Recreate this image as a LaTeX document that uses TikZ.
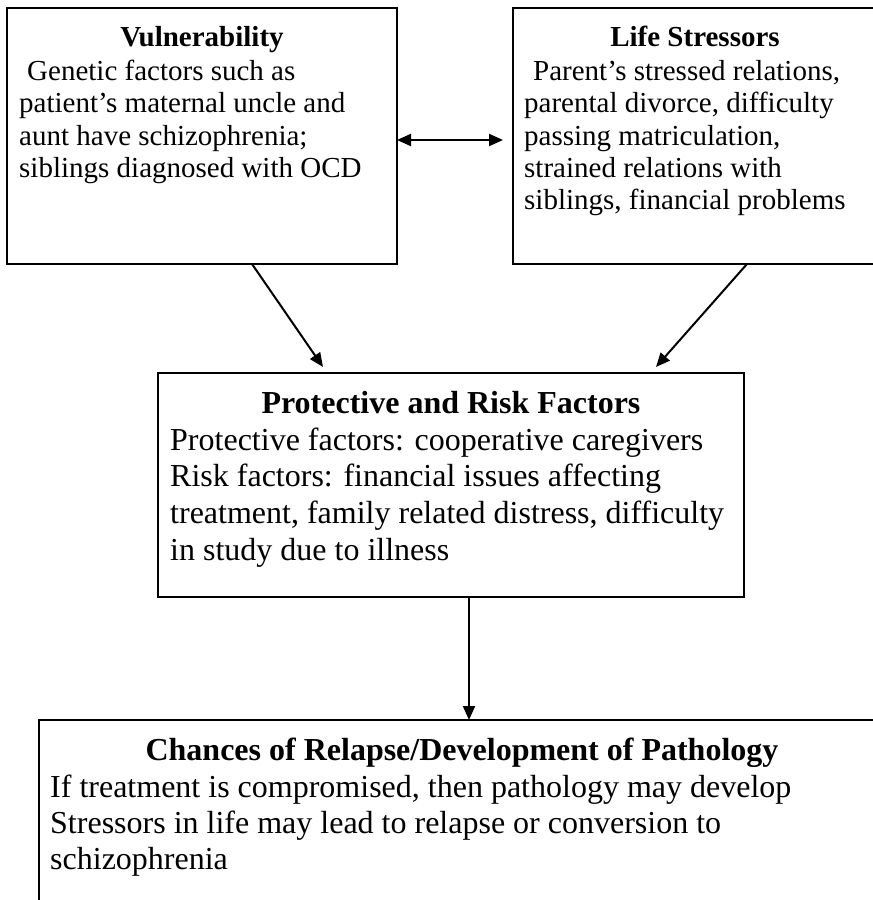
\documentclass[tikz,border=0pt]{standalone}
\usepackage{fontspec}
\setmainfont{Liberation Serif}
\usetikzlibrary{arrows.meta}
\begin{document}
\begin{tikzpicture}[x=1pt,y=-1pt,
  box/.style={draw, line width=2pt, inner sep=0pt, outer sep=0pt, anchor=north west},
  ln/.style={anchor=base west, inner sep=0pt, font=\fontsize{29}{32}\selectfont},
  ttl/.style={anchor=base, inner sep=0pt, font=\fontsize{29}{32}\selectfont\bfseries},
  lnb/.style={anchor=base west, inner sep=0pt, font=\fontsize{32}{36}\selectfont},
  ttlb/.style={anchor=base, inner sep=0pt, font=\fontsize{32}{36}\selectfont\bfseries},
  tip/.tip={Triangle[length=14pt,width=12pt]},
  arr/.style={line width=2pt, -tip}]
\useasboundingbox (0,0) rectangle (873,900);
\clip (0,0) rectangle (873,900);
% boxes
\node[box, minimum width=390pt, minimum height=256pt] (vul) at (7,8) {};
\node[box, minimum width=364pt, minimum height=256pt] (ls) at (513,8) {};
\node[box, minimum width=586pt, minimum height=224pt] (prf) at (158,373) {};
\node[box, minimum width=846pt, minimum height=230pt] (ch) at (39,720) {};
% Vulnerability text
\node[ttl] (vt) at (202,46) {Vulnerability};
\node[ln] (v1) at (27,80) {Genetic factors such as};
\node[ln] (v2) at (19,112) {patient’s maternal uncle and};
\node[ln] (v3) at (19,145) {aunt have schizophrenia;};
\node[ln] (v4) at (19,177) {siblings diagnosed with OCD};
% Life stressors text
\node[ttl] (lt) at (695,46) {Life Stressors};
\node[ln] (l1) at (533,80) {Parent’s stressed relations,};
\node[ln] (l2) at (524,112) {parental divorce, difficulty};
\node[ln] (l3) at (524,145) {passing matriculation,};
\node[ln] (l4) at (524,177) {strained relations with};
\node[ln] (l5) at (524,209) {siblings, financial problems};
% Protective text
\node[ttlb] (pt) at (451,413) {Protective and Risk Factors};
\node[lnb] (p1) at (170,450) {Protective factors: cooperative caregivers};
\node[lnb] (p2) at (170,486) {Risk factors: financial issues affecting};
\node[lnb] (p3) at (170,523) {treatment, family related distress, difficulty};
\node[lnb] (p4) at (170,560) {in study due to illness};
% Chances text
\node[ttlb] (ct) at (462,760) {Chances of Relapse/Development of Pathology};
\node[lnb] (c1) at (50,797) {If treatment is compromised, then pathology may develop};
\node[lnb] (c2) at (50,833) {Stressors in life may lead to relapse or conversion to};
\node[lnb] (c3) at (50,869) {schizophrenia};
% connectors
\draw[line width=2pt, tip-tip] ([yshift=-4pt]vul.east) -- ([yshift=-4pt,xshift=-10pt]ls.west);
\draw[arr] ([xshift=50pt]vul.south) -- ([xshift=-128pt,yshift=6pt]prf.north);
\draw[arr] ([xshift=52pt]ls.south) -- ([xshift=205pt,yshift=6pt]prf.north);
\draw[arr] ([xshift=18pt]prf.south) -- ([xshift=18pt]prf.south |- ch.north);
\end{tikzpicture}
\end{document}
